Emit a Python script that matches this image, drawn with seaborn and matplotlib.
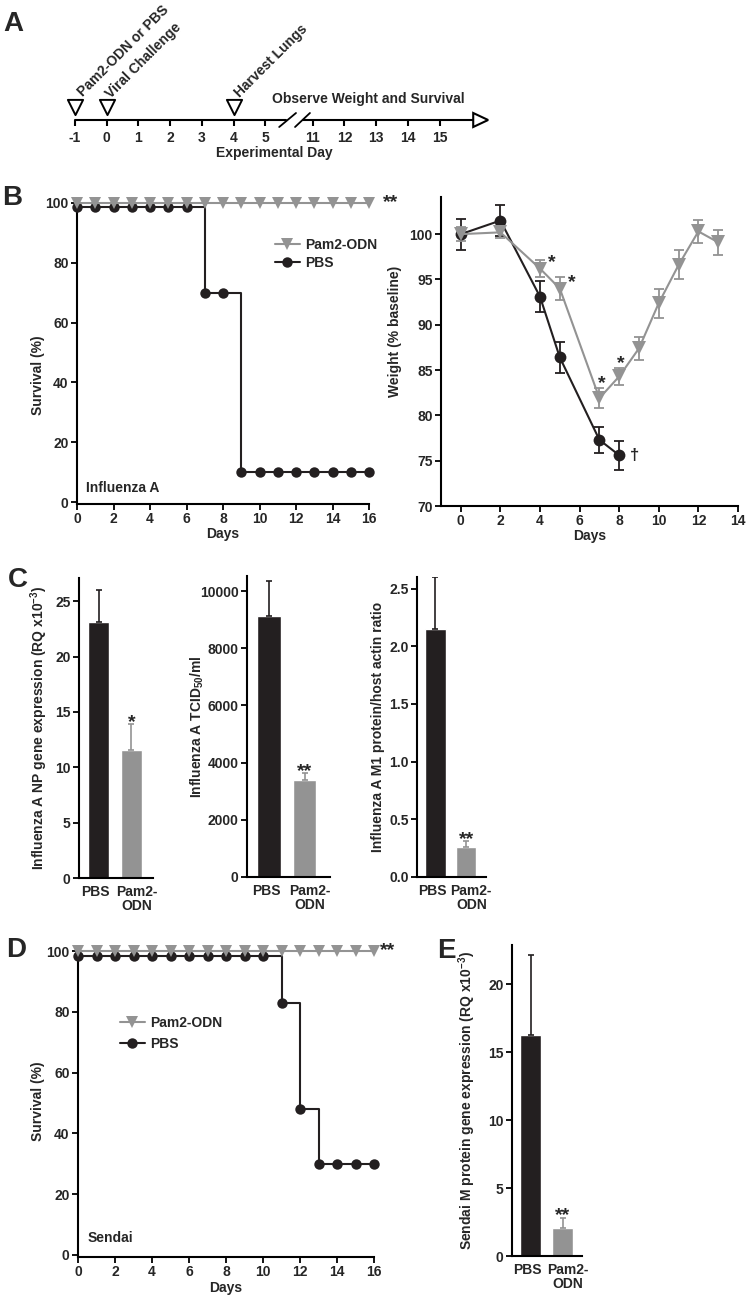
import numpy as np
import pandas as pd
import seaborn as sns
import matplotlib.pyplot as plt
from matplotlib.patches import Polygon
from matplotlib.ticker import MultipleLocator
from matplotlib.transforms import ScaledTranslation

# Data ########################################################################

# A: experimental timeline
tl_days = [-1, 0, 1, 2, 3, 4, 5, 11, 12, 13, 14, 15]
tl_pos = [0, 1, 2, 3, 4, 5, 6, 7.5, 8.5, 9.5, 10.5, 11.5]
event_labels = ['Pam2-ODN or PBS', 'Viral Challenge', 'Harvest Lungs']
event_pos = [0, 1, 5]

# B: influenza survival
days = [0, 1, 2, 3, 4, 5, 6, 7, 8, 9, 10, 11, 12, 13, 14, 15, 16]
flu_pam2 = [100, 100, 100, 100, 100, 100, 100, 100, 100, 100, 100, 100, 100, 100, 100, 100, 100]
flu_pbs = [98.5, 98.5, 98.5, 98.5, 98.5, 98.5, 98.5, 70, 70, 10, 10, 10, 10, 10, 10, 10, 10]

# B: weight
wt_days_pam2 = [0, 2, 4, 5, 7, 8, 9, 10, 11, 12, 13]
wt_pam2 = [100.0, 100.2, 96.2, 94.0, 81.9, 84.3, 87.4, 92.4, 96.6, 100.3, 99.1]
wt_pam2_err = [0.8, 0.6, 0.9, 1.3, 1.1, 0.9, 1.3, 1.6, 1.6, 1.3, 1.4]
wt_days_pbs = [0, 2, 4, 5, 7, 8]
wt_pbs = [100.0, 101.5, 93.1, 86.4, 77.3, 75.6]
wt_pbs_err = [1.7, 1.7, 1.7, 1.7, 1.4, 1.6]
wt_marks = ['*', '*', '*', '*', '\u2020']
wt_mark_x = [4.6, 5.6, 7.1, 8.1, 8.8]
wt_mark_y = [97.1, 94.9, 83.8, 86.0, 75.6]

# C / E: bars
groups = ['PBS', 'Pam2-\nODN']
np_expr = [23.1, 11.6]
np_err = [2.9, 2.3]
tcid = [9130, 3380]
tcid_err = [1230, 240]
m1 = [2.15, 0.26]
m1_err = [0.45, 0.05]
sendai_m = [16.25, 2.08]
sendai_m_err = [5.95, 0.74]

# D: sendai survival
sendai_pam2 = [100, 100, 100, 100, 100, 100, 100, 100, 100, 100, 100, 100, 100, 100, 100, 100, 100]
sendai_pbs = [98.5, 98.5, 98.5, 98.5, 98.5, 98.5, 98.5, 98.5, 98.5, 98.5, 98.5, 83, 48, 30, 30, 30, 30]

# Style #######################################################################

sns.set_theme(style='white')
plt.rcParams['font.family'] = ['Liberation Sans', 'DejaVu Sans']
plt.rcParams['font.weight'] = 'bold'
plt.rcParams['axes.labelweight'] = 'bold'
plt.rcParams['mathtext.fontset'] = 'custom'
plt.rcParams['mathtext.rm'] = 'Liberation Sans:bold'
plt.rcParams['mathtext.default'] = 'rm'
plt.rcParams['axes.edgecolor'] = 'black'
plt.rcParams['axes.linewidth'] = 1.5

BLACK = '#231f20'
GRAY = '#939393'
FS = 10

W, H = 750, 1297
fig = plt.figure(figsize=(W / 100, H / 100), dpi=100)


def ax_px(l, t, r, b):
    return fig.add_axes([l / W, 1 - b / H, (r - l) / W, (b - t) / H])


def style_ax(ax):
    sns.despine(ax=ax)
    ax.tick_params(direction='out', length=4, width=1.3, color='black',
                   labelsize=FS, bottom=True, left=True, pad=2)
    for lab in ax.get_xticklabels() + ax.get_yticklabels():
        lab.set_fontweight('bold')


# A: timeline #################################################################

axA = ax_px(40, 0, 510, 160)
axA.set_xlim(-1.104, 13.72)
axA.set_ylim(-40, 120)
axA.axis('off')
axA.plot([0, 6.66], [0, 0], color='black', lw=1.5)
axA.plot([7.19, 12.56], [0, 0], color='black', lw=1.5)
axA.plot([6.44, 6.97], [-7, 7], color='black', lw=1.3)
axA.plot([6.94, 7.41], [-7, 7], color='black', lw=1.3)
axA.add_patch(Polygon([[12.56, 7], [13.03, 0], [12.56, -7]], closed=True,
                      facecolor='white', edgecolor='black', lw=1.5))
axA.vlines(tl_pos, -6, 0, color='black', lw=1.5)
for p, d in zip(tl_pos, tl_days):
    axA.text(p, -22, str(d), ha='center', va='baseline', fontsize=FS, fontweight='bold')
sns.scatterplot(x=event_pos, y=[13] * len(event_pos), marker='v', s=120,
                facecolor='white', edgecolor='black', linewidth=1.4, ax=axA, zorder=3)
ev_anchor = [(0.25, 23), (1.12, 21), (5.2, 22)]
for lab, (x, y) in zip(event_labels, ev_anchor):
    axA.text(x, y, lab, rotation=45, rotation_mode='anchor', ha='left',
             va='baseline', fontsize=FS, fontweight='bold')
axA.text(9.26, 17, 'Observe Weight and Survival', ha='center', va='baseline',
         fontsize=FS, fontweight='bold')
axA.text(6.29, -37, 'Experimental Day', ha='center', va='baseline',
         fontsize=FS, fontweight='bold')


# survival helper #############################################################

def survival(ax, pam2, pbs, label_txt, label_y, leg_anchor, leg_space, star_x, ylab_y):
    sns.lineplot(x=days, y=pbs, drawstyle='steps-post', marker='o', markersize=7.5,
                 color=BLACK, mec=BLACK, mew=0, lw=1.5, ax=ax, label='PBS',
                 clip_on=False, zorder=3)
    sns.lineplot(x=days, y=pam2, marker='v', markersize=9, color=GRAY, mec=GRAY,
                 mew=0, lw=1.5, ax=ax, label='Pam2-ODN', clip_on=False, zorder=4)
    ax.set_xlim(0, 16)
    ax.set_ylim(-0.5, 101.5)
    ax.xaxis.set_major_locator(MultipleLocator(2))
    ax.yaxis.set_major_locator(MultipleLocator(20))
    ax.set_xlabel('Days', fontsize=FS, fontweight='bold', va='top')
    ax.set_ylabel('Survival (%)', fontsize=FS, fontweight='bold')
    ax.yaxis.set_label_coords(-0.11, ylab_y)
    ax.xaxis.set_label_coords(0.5, -0.078)
    h, l = ax.get_legend_handles_labels()
    ax.legend([h[1], h[0]], [l[1], l[0]], loc='upper left', bbox_to_anchor=leg_anchor,
              frameon=False, borderpad=0, handlelength=1.8, handletextpad=0.35,
              labelspacing=leg_space, prop={'size': FS, 'weight': 'bold'})
    ax.text(0.5, label_y, label_txt, ha='left', va='baseline', fontsize=FS, fontweight='bold')
    ax.text(star_x, 100, '**', ha='left', va='center', fontsize=14, fontweight='bold',
            clip_on=False)
    style_ax(ax)


axB1 = ax_px(77, 198.5, 369, 503.5)
survival(axB1, flu_pam2, flu_pbs, 'Influenza A', 3.3, (0.654, 0.893), 0.3, 16.77, 0.42)

# B: weight ###################################################################

axB2 = ax_px(441, 197, 738, 506)
axB2.errorbar(wt_days_pbs, wt_pbs, yerr=wt_pbs_err, fmt='none', ecolor=BLACK,
              elinewidth=1.3, capsize=3.5, capthick=1.3, zorder=2)
axB2.errorbar(wt_days_pam2, wt_pam2, yerr=wt_pam2_err, fmt='none', ecolor=GRAY,
              elinewidth=1.3, capsize=3.5, capthick=1.3, zorder=2)
sns.lineplot(x=wt_days_pbs, y=wt_pbs, marker='o', markersize=8.5, color=BLACK,
             mec=BLACK, mew=0, lw=1.5, ax=axB2, zorder=3)
sns.lineplot(x=wt_days_pam2, y=wt_pam2, marker='v', markersize=10, color=GRAY,
             mec=GRAY, mew=0, lw=1.5, ax=axB2, zorder=4)
for t, x, y in zip(wt_marks, wt_mark_x, wt_mark_y):
    axB2.annotate(t, (x, y), xytext=(0, -5 if t == '*' else 0), textcoords='offset points',
                  ha='center', va='baseline' if t == '*' else 'center',
                  fontsize=14 if t == '*' else 12, fontweight='bold')
axB2.set_xlim(-1, 14)
axB2.set_ylim(70, 104.1)
axB2.xaxis.set_major_locator(MultipleLocator(2))
axB2.yaxis.set_major_locator(MultipleLocator(5))
axB2.set_xlabel('Days', fontsize=FS, fontweight='bold', va='top')
axB2.set_ylabel('Weight (% baseline)', fontsize=FS, fontweight='bold')
axB2.yaxis.set_label_coords(-0.131, 0.566)
axB2.xaxis.set_label_coords(0.5, -0.074)
style_ax(axB2)


# bar helper ##################################################################

def bars(ax, vals, errs, ylim, xlim, step, ylab, star, ylab_x):
    sns.barplot(x=groups, y=vals, hue=groups, palette=[BLACK, GRAY], width=0.66,
                saturation=1, legend=False, errorbar=None, ax=ax)
    for i, (v, e, c) in enumerate(zip(vals, errs, [BLACK, GRAY])):
        ax.errorbar(i, v, yerr=[[0], [e]], fmt='none', ecolor=c, elinewidth=1.2,
                    capsize=2.5, capthick=1.2)
    ax.annotate(star, (1, vals[1] + errs[1]), xytext=(0, -2), textcoords='offset points',
                ha='center', va='baseline', fontsize=14, fontweight='bold')
    ax.set_xlim(*xlim)
    ax.set_ylim(*ylim)
    ax.yaxis.set_major_locator(MultipleLocator(step))
    ax.set_ylabel(ylab, fontsize=FS, fontweight='bold')
    ax.yaxis.set_label_coords(ylab_x, 0.5)
    style_ax(ax)
    ax.tick_params(axis='x', length=0, pad=5)
    # GraphPad-style label offsets so PBS / Pam2- do not collide
    for lab, dx in zip(ax.get_xticklabels(), [-3, 5]):
        lab.set_linespacing(1.0)
        lab.set_transform(lab.get_transform() + ScaledTranslation(dx / 100, 0, fig.dpi_scale_trans))


axC1 = ax_px(79, 578, 153, 878)
bars(axC1, np_expr, np_err, (0, 27.1), (-0.6, 1.66), 5,
     'Influenza A NP gene expression (RQ x10$^{-3}$)', '*', -0.39)
axC2 = ax_px(247, 576, 330, 877)
bars(axC2, tcid, tcid_err, (0, 10525), (-0.62, 1.71), 2000,
     'Influenza A TCID$_{50}$/ml', '**', -0.5)
axC3 = ax_px(417, 577, 486, 877)
bars(axC3, m1, m1_err, (0, 2.6), (-0.6, 1.64), 0.5,
     'Influenza A M1 protein/host actin ratio', '**', -0.47)
axC3.yaxis.set_major_formatter(lambda v, p: f'{v:.1f}')

# D ###########################################################################

axD = ax_px(78, 946.5, 374, 1256.5)
survival(axD, sendai_pam2, sendai_pbs, 'Sendai', 4.3, (0.118, 0.798), 0.5, 16.33, 0.5)

# E ###########################################################################

axE = ax_px(512, 945, 582, 1256)
bars(axE, sendai_m, sendai_m_err, (0, 22.9), (-0.58, 1.61), 5,
     'Sendai M protein gene expression (RQ x10$^{-3}$)', '**', -0.486)

# panel letters ###############################################################

for lab, x, y in [('A', 3, 31), ('B', 2, 205), ('C', 8, 587), ('D', 6, 957), ('E', 437, 958)]:
    fig.text(x / W, 1 - y / H, lab, ha='left', va='baseline', fontsize=20, fontweight='bold')

fig.savefig('out.png', dpi=100)
